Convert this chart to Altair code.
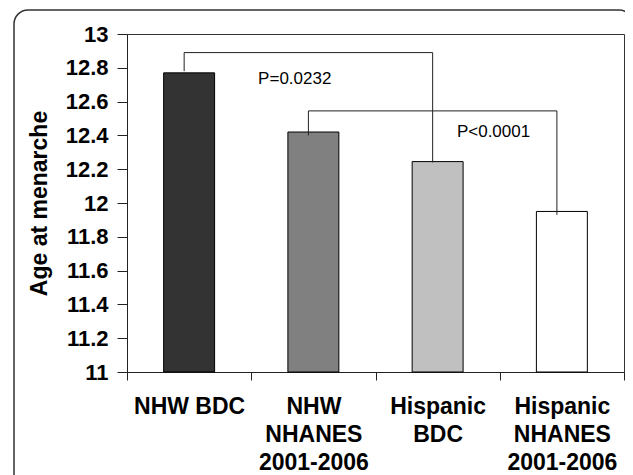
import altair as alt
import pandas as pd

# ---- data ----
categories = ["NHW BDC", "NHW\nNHANES\n2001-2006", "Hispanic\nBDC", "Hispanic\nNHANES\n2001-2006"]
ages = [12.77, 12.42, 12.245, 11.95]
bar_colors = ["#333333", "#808080", "#c0c0c0", "#ffffff"]

y_ticks = [11, 11.2, 11.4, 11.6, 11.8, 12, 12.2, 12.4, 12.6, 12.8, 13]

bracket_from = ["NHW BDC", "NHW\nNHANES\n2001-2006"]
bracket_to = ["Hispanic\nBDC", "Hispanic\nNHANES\n2001-2006"]
bracket_top = [12.89, 12.545]
bracket_left_end = [12.78, 12.40]
bracket_right_end = [12.24, 11.93]

p_labels = ["P=0.0232", "P<0.0001"]
p_label_cat = ["NHW\nNHANES\n2001-2006", "Hispanic\nBDC"]
p_label_y = [12.734, 12.42]

FONT = "Liberation Sans"

bars_df = pd.DataFrame({"group": categories, "age": ages})
br_df = pd.DataFrame({"from": bracket_from, "to": bracket_to, "top": bracket_top,
                      "lend": bracket_left_end, "rend": bracket_right_end})
p_df = pd.DataFrame({"cat": p_label_cat, "y": p_label_y, "label": p_labels})

xscale = alt.Scale(domain=categories, paddingInner=0, paddingOuter=0)
yscale = alt.Scale(domain=[11, 13], zero=False, nice=False)

xaxis = alt.Axis(labelAngle=0, tickBand="extent", tickSize=8, tickColor="#222",
                 domainColor="#222", labelFont=FONT, labelFontSize=23,
                 labelFontWeight="bold", labelColor="black", labelPadding=15,
                 labelLineHeight=28, labelOverlap=False, labelLimit=200,
                 labelExpr="split(datum.label, '\\n')")
yaxis = alt.Axis(values=y_ticks, format=".1~f", grid=False, tickSize=10,
                 tickColor="#222", domainColor="#222", labelFont=FONT,
                 labelFontSize=22, labelFontWeight="bold", labelColor="black",
                 labelPadding=9, titleFont=FONT, titleFontSize=23,
                 titleFontWeight="bold", titleColor="black", titlePadding=14)

bars = alt.Chart(bars_df).mark_bar(
    width=alt.RelativeBandSize(0.41), stroke="black", strokeWidth=1
).encode(
    x=alt.X("group:N", scale=xscale, title=None, axis=xaxis),
    y=alt.Y("age:Q", scale=yscale, title="Age at menarche", axis=yaxis),
    y2=alt.datum(11),
    color=alt.Color("group:N", scale=alt.Scale(domain=categories, range=bar_colors), legend=None),
)

hline = alt.Chart(br_df).mark_rule(color="#222", strokeWidth=1).encode(
    x=alt.X("from:N", scale=xscale, title=None, axis=xaxis, bandPosition=0.46),
    x2=alt.X2("to:N", bandPosition=0.46),
    y=alt.Y("top:Q", scale=yscale, title="Age at menarche", axis=yaxis),
)
lvline = alt.Chart(br_df).mark_rule(color="#222", strokeWidth=1).encode(
    x=alt.X("from:N", scale=xscale, title=None, axis=xaxis, bandPosition=0.46),
    y=alt.Y("top:Q", scale=yscale, title="Age at menarche", axis=yaxis),
    y2="lend:Q",
)
rvline = alt.Chart(br_df).mark_rule(color="#222", strokeWidth=1).encode(
    x=alt.X("to:N", scale=xscale, title=None, axis=xaxis, bandPosition=0.46),
    y=alt.Y("top:Q", scale=yscale, title="Age at menarche", axis=yaxis),
    y2="rend:Q",
)

ptext1 = alt.Chart(p_df.iloc[[0]]).mark_text(font=FONT, fontSize=17, align="center",
                                              baseline="middle", color="black").encode(
    x=alt.X("cat:N", scale=xscale, title=None, axis=xaxis, bandPosition=0.35),
    y=alt.Y("y:Q", scale=yscale, title="Age at menarche", axis=yaxis),
    text="label:N",
)
ptext2 = alt.Chart(p_df.iloc[[1]]).mark_text(font=FONT, fontSize=17, align="center",
                                              baseline="middle", color="black").encode(
    x=alt.X("cat:N", scale=xscale, title=None, axis=xaxis, bandPosition=0.95),
    y=alt.Y("y:Q", scale=yscale, title="Age at menarche", axis=yaxis),
    text="label:N",
)

frame = alt.Chart(pd.DataFrame({"f": [0]})).mark_rect(
    filled=False, stroke="#333", strokeWidth=1.5, cornerRadius=14
).encode(x=alt.value(-113), x2=alt.value(506), y=alt.value(-24), y2=alt.value(470))

chart = alt.layer(frame, bars, hline, lvline, rvline, ptext1, ptext2).properties(
    width=497, height=338,
    autosize=alt.AutoSizeParams(type="none"),
    padding={"left": 119, "top": 26, "right": 1, "bottom": 103},
    background="white",
).configure_view(stroke="#333", strokeWidth=1)

chart.save("out.html", embed_options={"renderer": "svg", "actions": False})
